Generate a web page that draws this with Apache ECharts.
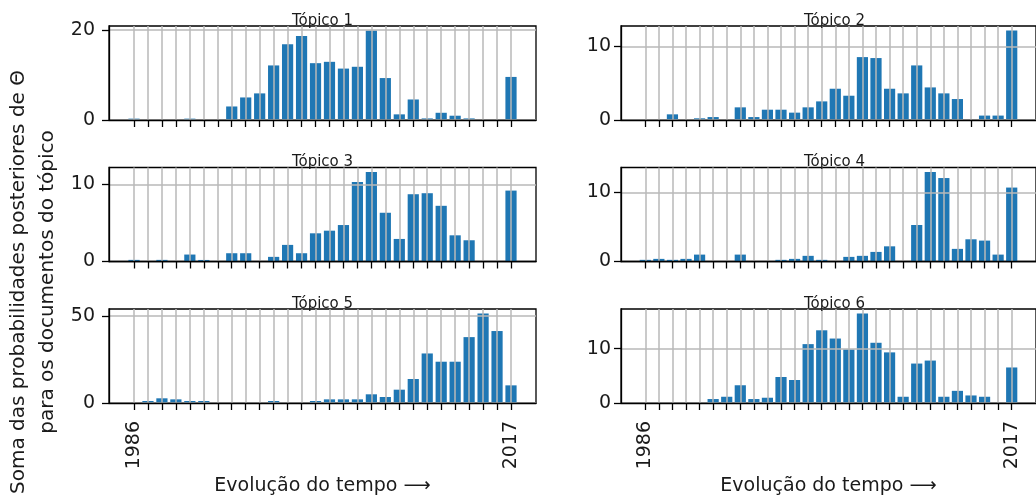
<!DOCTYPE html>
<html><head><meta charset="utf-8">
<script src="https://cdn.jsdelivr.net/npm/echarts@6/dist/echarts.min.js"></script>
<style>html,body{margin:0;padding:0;background:#fff}#c{width:1036px;height:498px}</style>
</head><body><div id="c"></div>
<script>
// 28 time periods (index positions), only first and last labelled
const periods = [0,1,2,3,4,5,6,7,8,9,10,11,12,13,14,15,16,17,18,19,20,21,22,23,24,25,26,27];
const xTickPositions = [0, 27];
const xTickLabels = ['1986', '2017'];
const topicNames = ['Tópico 1', 'Tópico 2', 'Tópico 3', 'Tópico 4', 'Tópico 5', 'Tópico 6'];

const topic1 = [0.3,0,0,0,0.3,0,0,3.0,5.0,5.9,12.1,16.8,18.6,12.6,12.9,11.4,11.8,19.85,9.3,1.25,4.55,0.35,1.6,0.95,0.35,0,0,9.55];
const topic2 = [0,0,0.77,0,0.23,0.4,0,1.72,0.4,1.4,1.4,1.0,1.72,2.53,4.25,3.3,8.55,8.42,4.25,3.62,7.42,4.43,3.62,2.85,0,0.6,0.6,12.17];
const topic3 = [0.21,0,0.21,0,0.9,0.2,0,1.07,1.07,0,0.6,2.15,1.07,3.65,3.99,4.72,10.3,11.59,6.31,2.92,8.71,8.84,7.21,3.39,2.75,0,0,9.18];
const topic4 = [0.24,0.38,0.24,0.38,1.0,0,0,1.0,0,0,0.24,0.38,0.82,0.24,0,0.67,0.82,1.39,2.2,0,5.29,12.98,12.1,1.83,3.22,3.03,1.0,10.72];
const topic5 = [0,1.15,2.7,2.1,1.15,1.15,0,0,0,0,1.15,0,0,1.15,2.1,2.1,2.1,5.0,3.45,7.66,13.8,28.5,23.75,23.75,37.9,51.5,41.4,10.15];
const topic6 = [0,0,0,0,0,0.73,1.15,3.27,0.73,0.97,4.79,4.24,10.85,13.4,11.88,9.88,16.5,11.1,9.33,1.15,7.27,7.82,1.15,2.24,1.39,1.15,0,6.55];

const yTicks1 = [0, 20];
const yTicks2 = [0, 10];
const yTicks3 = [0, 10];
const yTicks4 = [0, 10];
const yTicks5 = [0, 50];
const yTicks6 = [0, 10];

const xAxisName = 'Evolução do tempo ⟶';
const yAxisName = 'Soma das probabilidades posteriores de Θ\npara os documentos do tópico';

const topics = [topic1, topic2, topic3, topic4, topic5, topic6];
const yTicks = [yTicks1, yTicks2, yTicks3, yTicks4, yTicks5, yTicks6];

const FONT = 'DejaVu Sans';
const TXT = '#1a1a1a';
const BAR = '#1f77b4';
const GRIDC = '#b9b9b9';

const lefts = [109, 621];
const tops = [26, 167.5, 309];
const W = 427, H = 94;
const barW = 0.8;
const n = periods.length;
const xMin = -barW/2 - 0.05*(n - 1 + barW);
const xMax = (n - 1) + barW/2 + 0.05*(n - 1 + barW);

const grids = [], xAxes = [], yAxes = [], series = [], graphics = [];
topics.forEach((vals, k) => {
  const col = k % 2, row = Math.floor(k / 2);
  const bottomRow = row === 2;
  grids.push({left: lefts[col], top: tops[row], width: W, height: H, show: true,
    borderColor: '#000', borderWidth: 1.3, backgroundColor: 'transparent', containLabel: false});
  xAxes.push({type: 'value', gridIndex: k, min: xMin, max: xMax, z: 5,
    axisLine: {show: true, onZero: false, lineStyle: {color: '#000', width: 1.3}},
    axisTick: {show: true, inside: false, length: 7, lineStyle: {color: '#000', width: 1.3}, customValues: periods},
    axisLabel: {show: bottomRow, customValues: xTickPositions, rotate: 90, margin: 18,
      fontFamily: FONT, fontSize: 19, color: TXT,
      formatter: v => { const i = xTickPositions.indexOf(v); return i >= 0 ? xTickLabels[i] : ''; }},
    splitLine: {show: true, lineStyle: {color: GRIDC, width: 1.5}},
    name: bottomRow ? xAxisName : '', nameLocation: 'middle', nameGap: 74,
    nameTextStyle: {fontFamily: FONT, fontSize: 19, color: TXT}
  });
  const vmax = Math.max(...vals) * 1.05;
  yAxes.push({type: 'value', gridIndex: k, min: 0, max: vmax, z: 5,
    axisLine: {show: true, onZero: false, lineStyle: {color: '#000', width: 1.3}},
    axisTick: {show: true, length: 7, lineStyle: {color: '#000', width: 1.3}, customValues: yTicks[k]},
    axisLabel: {show: true, customValues: yTicks[k], margin: col === 0 ? 14 : 10,
      fontFamily: FONT, fontSize: 19, color: TXT},
    splitLine: {show: true, lineStyle: {color: GRIDC, width: 1.5}}
  });
  series.push({type: 'bar', xAxisIndex: k, yAxisIndex: k, z: 2,
    data: vals.map((v, i) => [periods[i], v]),
    barWidth: 11.2, itemStyle: {color: BAR}, silent: true, animation: false});
  graphics.push({type: 'text', x: lefts[col] + W/2, y: tops[row] + 2.5, z: 10,
    style: {text: topicNames[k], fill: TXT, font: '15px "' + FONT + '"',
      textAlign: 'center', textVerticalAlign: 'bottom', align: 'center', verticalAlign: 'bottom'}});
});
graphics.push({type: 'text', x: 33, y: 282, rotation: Math.PI/2, z: 10,
  style: {text: yAxisName, fill: TXT, font: '20px "' + FONT + '"', lineHeight: 29,
    textAlign: 'center', textVerticalAlign: 'middle', align: 'center', verticalAlign: 'middle'}});

const chart = echarts.init(document.getElementById('c'), null, {renderer: 'canvas'});
chart.setOption({animation: false, grid: grids, xAxis: xAxes, yAxis: yAxes, series: series, graphic: graphics});
</script></body></html>
